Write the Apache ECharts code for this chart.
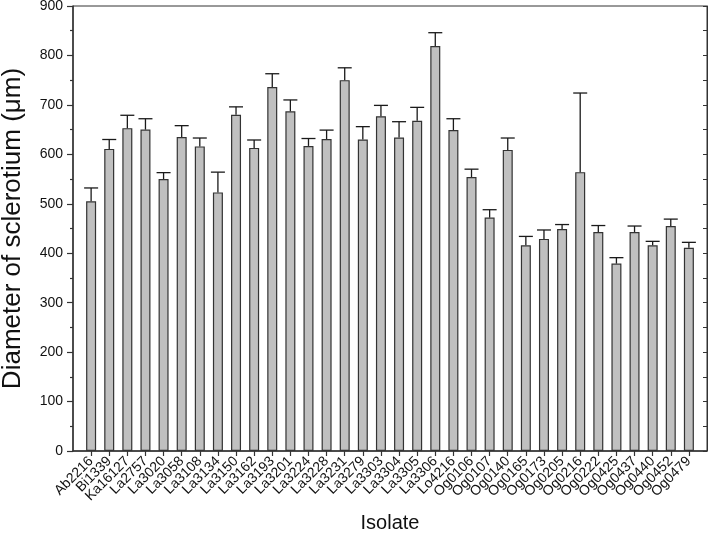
<!DOCTYPE html>
<html>
<head>
<meta charset="utf-8">
<script src="https://cdn.jsdelivr.net/npm/echarts@6/dist/echarts.min.js"></script>
<style>
html, body { margin: 0; padding: 0; background: #fff; }
#chart { width: 709px; height: 536px; }
</style>
</head>
<body>
<div id="chart"></div>
<script>
// isolates
let isolates = [
    'Ab2216', 'Bi1339', 'Ka16127', 'La2757', 'La3020', 'La3058', 'La3108', 'La3134',
    'La3150', 'La3162', 'La3193', 'La3201', 'La3224', 'La3228', 'La3231', 'La3279',
    'La3303', 'La3304', 'La3305', 'La3306', 'Lo4216', 'Og0106', 'Og0107', 'Og0140',
    'Og0165', 'Og0173', 'Og0205', 'Og0216', 'Og0222', 'Og0425', 'Og0437', 'Og0440',
    'Og0452', 'Og0479'
];
// mean diameter (µm)
let diameter = [
    505, 611, 653, 650, 550, 635, 616, 523,
    680, 613, 736, 687, 617, 631, 750, 630,
    677, 634, 668, 819, 649, 554, 472, 609,
    416, 429, 449, 564, 443, 379, 443, 416,
    455, 411
];
// upper error (SD)
let errUp = [
    27, 19, 26, 22, 13, 23, 17, 41,
    16, 16, 27, 23, 15, 18, 25, 26,
    22, 32, 27, 27, 23, 16, 16, 24,
    18, 18, 9, 160, 13, 12, 12, 8,
    14, 11
];
let yTicks = [0, 100, 200, 300, 400, 500, 600, 700, 800, 900];

let axisColor = '#333';
let textColor = '#111';
let fontFamily = '"Liberation Sans", Arial, sans-serif';

// blank slot at both ends so bars sit one step in from the frame
let categories = [''].concat(isolates, ['']);
let barData = ['-'].concat(diameter, ['-']);
let errData = diameter.map((v, i) => [i + 1, v, v + errUp[i]]);

let chart = echarts.init(document.getElementById('chart'));

let option = {
    animation: false,
    textStyle: { fontFamily: fontFamily },
    grid: {
        left: 73,
        right: 2,
        top: 6,
        bottom: 85,
        show: true,
        borderColor: axisColor,
        borderWidth: 1,
        containLabel: false,
        outerBoundsMode: 'none'
    },
    xAxis: {
        type: 'category',
        data: categories,
        boundaryGap: false,
        name: 'Isolate',
        nameLocation: 'middle',
        nameGap: 62,
        nameTextStyle: { fontSize: 20, color: textColor, fontFamily: fontFamily },
        axisLine: { lineStyle: { color: axisColor, width: 1.5 } },
        axisTick: {
            length: 5,
            interval: (index, value) => value !== '',
            lineStyle: { color: axisColor, width: 1.2 }
        },
        axisLabel: {
            interval: 0,
            rotate: 45,
            margin: 8,
            fontSize: 14,
            color: textColor
        },
        splitLine: { show: false }
    },
    yAxis: [
        {
            type: 'value',
            min: yTicks[0],
            max: yTicks[yTicks.length - 1],
            interval: 100,
            name: 'Diameter of sclerotium (\u03bcm)',
            nameLocation: 'middle',
            nameGap: 47,
            nameTextStyle: { fontSize: 26, color: textColor, fontFamily: fontFamily },
            axisLine: { show: true, lineStyle: { color: axisColor, width: 1.5 } },
            axisTick: { show: true, length: 6, lineStyle: { color: axisColor, width: 1.2 } },
            minorTick: { show: true, splitNumber: 2, length: 3, lineStyle: { color: axisColor, width: 1.2 } },
            axisLabel: { fontSize: 14, color: textColor, margin: 10 },
            splitLine: { show: false }
        },
        {
            // right frame with inward ticks
            type: 'value',
            position: 'right',
            min: yTicks[0],
            max: yTicks[yTicks.length - 1],
            interval: 100,
            axisLine: { show: true, lineStyle: { color: axisColor, width: 1 } },
            axisTick: { show: true, inside: true, length: 4, lineStyle: { color: axisColor } },
            minorTick: { show: true, splitNumber: 2, length: 4, lineStyle: { color: axisColor } },
            axisLabel: { show: false },
            splitLine: { show: false }
        }
    ],
    series: [
        {
            type: 'bar',
            data: barData,
            barWidth: 10,
            itemStyle: {
                color: '#c0c0c0',
                borderColor: '#333',
                borderWidth: 1.2
            },
            z: 2
        },
        {
            type: 'custom',
            data: errData,
            z: 3,
            renderItem: (params, api) => {
                let base = api.coord([api.value(0), api.value(1)]);
                let top = api.coord([api.value(0), api.value(2)]);
                let half = 7;
                let style = { stroke: '#1a1a1a', lineWidth: 1.3 };
                return {
                    type: 'group',
                    children: [
                        { type: 'line', shape: { x1: base[0], y1: base[1], x2: top[0], y2: top[1] }, style: style },
                        { type: 'line', shape: { x1: top[0] - half, y1: top[1], x2: top[0] + half, y2: top[1] }, style: style }
                    ]
                };
            }
        }
    ]
};

chart.setOption(option);
</script>
</body>
</html>
